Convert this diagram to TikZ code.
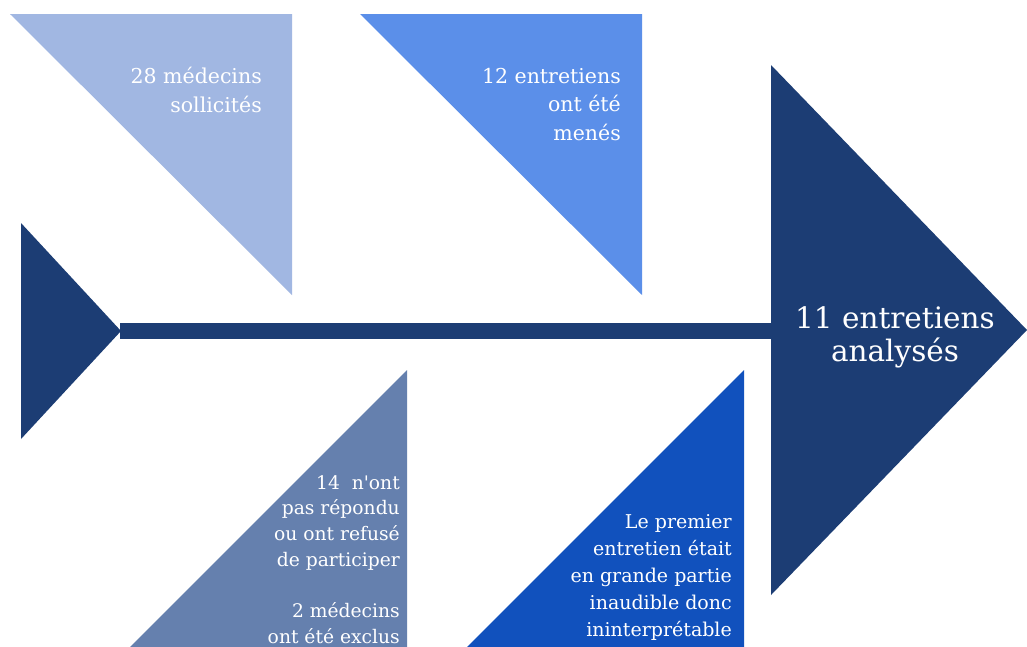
\documentclass[tikz,border=0pt]{standalone}
\usepackage{fontspec}
\setmainfont{DejaVu Serif}[Ligatures=TeXOff]
\definecolor{cLight}{HTML}{A1B7E2}
\definecolor{cMid}{HTML}{5B8FE9}
\definecolor{cNavy}{HTML}{1C3D74}
\definecolor{cSlate}{HTML}{6580AE}
\definecolor{cRoyal}{HTML}{1151BD}
\begin{document}
\begin{tikzpicture}[x=1pt,y=-1pt,
  lbl/.style={inner sep=0pt,text=white,anchor=base east},
  bigl/.style={inner sep=0pt,text=white,anchor=base}]
\useasboundingbox (0,0) rectangle (1027,646);
\fill[white] (0,0) rectangle (1027,646);
% top triangles
\fill[cLight] (10,14) -- (292,14) -- (292,295) -- cycle;
\fill[cMid] (360,14) -- (642,14) -- (642,295) -- cycle;
% bottom triangles
\fill[cSlate] (407,370) -- (407,660) -- (117,660) -- cycle;
\fill[cRoyal] (744,370) -- (744,660) -- (454,660) -- cycle;
% spine
\fill[cNavy] (120,323) rectangle (775,339);
% tail
\fill[cNavy] (21,223) -- (121,331) -- (21,439) -- cycle;
% head
\fill[cNavy] (771,65) -- (1027,330) -- (771,595) -- cycle;
% texts
\node[lbl] (t1) at (262,83) {\fontsize{20.5}{29}\selectfont\begin{tabular}[t]{@{}r@{}}28 médecins\\sollicités\end{tabular}};
\node[lbl] (t2) at (621,83) {\fontsize{20.5}{28.5}\selectfont\begin{tabular}[t]{@{}r@{}}12 entretiens\\ont été\\menés\end{tabular}};
\node[lbl] (t3) at (400,489) {\fontsize{18.7}{25.7}\selectfont\begin{tabular}[t]{@{}r@{}}14\ \ n'ont\hspace{5pt}\\pas répondu\hspace{5pt}\\ou ont refusé\hspace{5pt}\\de participer\hspace{2pt}\\ \\2 médecins\hspace{5pt}\\ont été exclus\end{tabular}};
\node[lbl] (t4) at (732,528) {\fontsize{19}{27.2}\selectfont\begin{tabular}[t]{@{}r@{}}Le premier\\entretien était\hspace{5pt}\\en grande partie\\inaudible donc\\ininterprétable\end{tabular}};
\node[bigl] (t5) at (895,328) {\fontsize{29.5}{33}\selectfont\begin{tabular}[t]{@{}c@{}}11 entretiens\\analysés\end{tabular}};
\end{tikzpicture}
\end{document}
